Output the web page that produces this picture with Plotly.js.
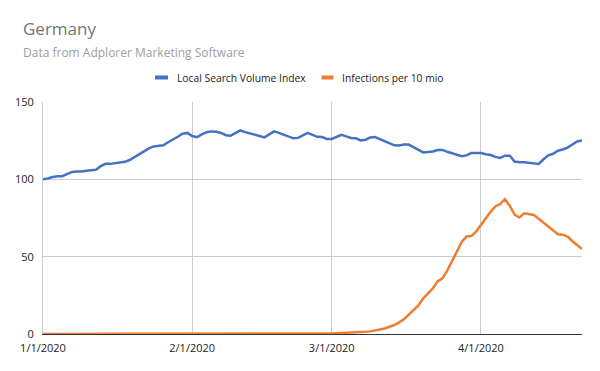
<!DOCTYPE html>
<html>
<head>
<meta charset="utf-8">
<script src="https://cdn.plot.ly/plotly-3.0.1.min.js"></script>
<style>html,body{margin:0;padding:0;background:#fff;}#chart{width:600px;height:371px;}</style>
</head>
<body>
<div id="chart"></div>
<script>
// Daily series starting 1/1/2020
const startDate = '2020-01-01';
const searchIndex = [
  100, 100.5, 101.5, 102, 102, 103.5, 104.8, 105, 105, 105.5,
  105.8, 106.2, 108.5, 110, 110, 110.3, 110.9, 111.3, 112.5, 114.5,
  116.5, 118, 120, 121.3, 121.7, 122, 124, 125.5, 127.5, 129.5,
  130, 128, 127.3, 129, 130.5, 131, 130.8, 130, 128.5, 128.2,
  130, 131.6, 130.5, 129.5, 129, 128, 127.1, 129, 131, 130,
  129, 128, 126.5, 126.8, 128.5, 130, 128.8, 127.5, 127.3, 126.1,
  126.1, 127.3, 128.8, 127.8, 126.7, 126.5, 125.2, 125.6, 127, 127.3,
  126, 124.9, 123.5, 122, 121.9, 122.5, 122.5, 120.8, 118.8, 117.4,
  117.6, 118, 119, 119, 117.8, 117, 116, 115, 115.5, 117,
  117, 117, 116.2, 115.7, 114.5, 113.8, 115.3, 115.2, 111.5, 111,
  111, 110.8, 110.2, 110, 113, 115.5, 116.5, 118.5, 119.3, 120.5,
  122.5, 124.5, 125.1
];
const infections = [
  0, 0, 0, 0, 0, 0, 0, 0, 0, 0,
  0, 0, 0, 0, 0, 0, 0, 0, 0, 0,
  0, 0, 0, 0, 0, 0, 0.02, 0.05, 0.05, 0.06,
  0.06, 0.08, 0.1, 0.1, 0.1, 0.1, 0.1, 0.1, 0.1, 0.1,
  0.12, 0.12, 0.12, 0.12, 0.12, 0.12, 0.12, 0.12, 0.12, 0.12,
  0.12, 0.12, 0.12, 0.12, 0.12, 0.14, 0.2, 0.25, 0.3, 0.35,
  0.4, 0.5, 0.6, 0.7, 0.8, 1.0, 1.2, 1.4, 1.7, 2.3,
  2.9, 3.6, 4.7, 5.8, 7.5, 9.6, 12.5, 15.5, 18.5, 23,
  26.5, 29.5, 34, 36, 41, 47, 54, 59.5, 63, 63.3,
  66.2, 70.5, 74.5, 79, 82.5, 84, 87.2, 82.8, 77.2, 75.3,
  78, 77.5, 77, 74.5, 72, 69.5, 67.5, 64.5, 64.2, 63,
  60, 57.5, 55
];
const seriesNames = ['Local Search Volume Index', 'Infections per 10 mio'];
const seriesColors = ['#4472c4', '#ed7d31'];
const tickDates = ['2020-01-01', '2020-02-01', '2020-03-01', '2020-04-01'];
const tickLabels = ['1/1/2020', '2/1/2020', '3/1/2020', '4/1/2020'];

function buildDates(start, n) {
  const out = [];
  const d0 = new Date(start + 'T00:00:00Z');
  for (let i = 0; i < n; i++) {
    const d = new Date(d0.getTime() + i * 86400000);
    out.push(d.toISOString().slice(0, 10));
  }
  return out;
}
const dates = buildDates(startDate, searchIndex.length);

const FONT = 'Open Sans, Noto Sans, sans-serif';
const traces = [
  {x: dates, y: searchIndex, type: 'scatter', mode: 'lines', name: seriesNames[0],
   line: {color: seriesColors[0], width: 2.5}, hoverinfo: 'skip'},
  {x: dates, y: infections, type: 'scatter', mode: 'lines', name: seriesNames[1],
   line: {color: seriesColors[1], width: 2.5}, hoverinfo: 'skip'}
];

const L = 43, R = 582, T = 102, B = 334;
const pw = R - L, ph = B - T;
const px = v => (v - L) / pw;
const py = v => (B - v) / ph;

const layout = {
  width: 600, height: 371,
  margin: {l: L, r: 600 - R, t: T, b: 371 - B, pad: 0},
  paper_bgcolor: '#ffffff', plot_bgcolor: '#ffffff',
  showlegend: false,
  font: {family: FONT, size: 11, color: '#222222'},
  xaxis: {
    type: 'date', range: [dates[0], dates[dates.length - 1]],
    tickvals: tickDates, ticktext: tickLabels,
    showgrid: true, gridcolor: '#cccccc', gridwidth: 1,
    showline: true, linecolor: '#333333', linewidth: 1,
    ticks: '', zeroline: false, ticklabelstandoff: 4,
    tickfont: {family: FONT, size: 11, color: '#222222'}
  },
  yaxis: {
    range: [0, 150], tickvals: [0, 50, 100, 150],
    showgrid: true, gridcolor: '#cccccc', gridwidth: 1,
    showline: true, linecolor: '#cccccc', linewidth: 1,
    zeroline: false, ticks: '', ticklabelstandoff: 6,
    tickfont: {family: FONT, size: 11, color: '#222222'}
  },
  shapes: [
    {type: 'line', xref: 'paper', yref: 'paper', x0: px(155), x1: px(168), y0: py(77.5), y1: py(77.5),
     line: {color: seriesColors[0], width: 4}},
    {type: 'line', xref: 'paper', yref: 'paper', x0: px(321.5), x1: px(333.5), y0: py(77.5), y1: py(77.5),
     line: {color: seriesColors[1], width: 4}}
  ],
  annotations: [
    {text: 'Germany', xref: 'paper', yref: 'paper', x: px(21), y: py(29), xanchor: 'left', yanchor: 'middle',
     showarrow: false, font: {family: FONT, size: 17, color: '#757575'}},
    {text: 'Data from Adplorer Marketing Software', xref: 'paper', yref: 'paper', x: px(21), y: py(52), xanchor: 'left', yanchor: 'middle',
     showarrow: false, font: {family: FONT, size: 12, color: '#9e9e9e'}},
    {text: seriesNames[0], xref: 'paper', yref: 'paper', x: px(175), y: py(77.5), xanchor: 'left', yanchor: 'middle',
     showarrow: false, font: {family: FONT, size: 10.3, color: '#222222'}},
    {text: seriesNames[1], xref: 'paper', yref: 'paper', x: px(340), y: py(77.5), xanchor: 'left', yanchor: 'middle',
     showarrow: false, font: {family: FONT, size: 10.3, color: '#222222'}}
  ]
};

Plotly.newPlot('chart', traces, layout, {displayModeBar: false, staticPlot: true});
</script>
</body>
</html>
